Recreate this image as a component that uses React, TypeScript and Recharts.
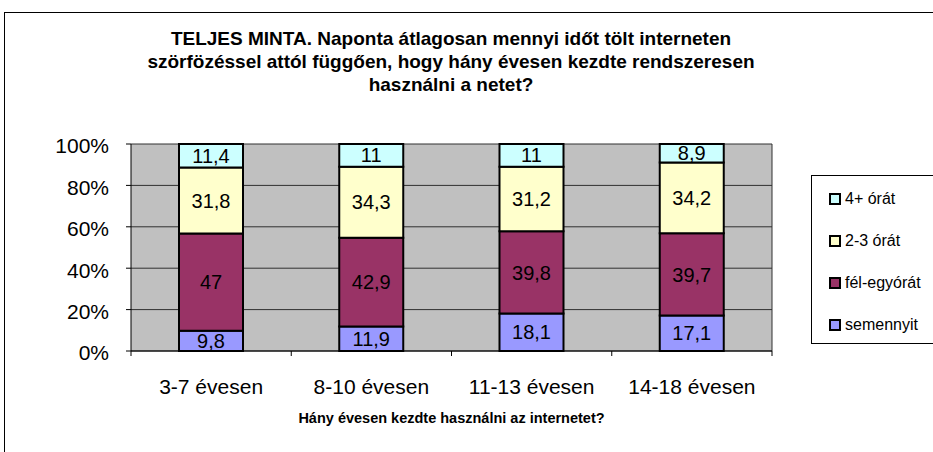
import React from 'react';
import { BarChart, Bar, XAxis, YAxis, CartesianGrid, LabelList } from 'recharts';

const categories = ['3-7 évesen', '8-10 évesen', '11-13 évesen', '14-18 évesen'];
const semennyit = [9.8, 11.9, 18.1, 17.1];
const felEgyorat = [47, 42.9, 39.8, 39.7];
const ketHaromOrat = [31.8, 34.3, 31.2, 34.2];
const negyPlusOrat = [11.4, 11, 11, 8.9];
const yTicks = [0, 0.2, 0.4, 0.6, 0.8, 1];

const titleLines = [
  'TELJES MINTA. Naponta átlagosan mennyi időt tölt interneten',
  'szörfözéssel attól függően, hogy hány évesen kezdte rendszeresen',
  'használni a netet?',
];
const xTitle = 'Hány évesen kezdte használni az internetet?';

const series = [
  { key: 's0', name: 'semennyit', values: semennyit, color: '#9999FF' },
  { key: 's1', name: 'fél-egyórát', values: felEgyorat, color: '#993366' },
  { key: 's2', name: '2-3 órát', values: ketHaromOrat, color: '#FFFFCC' },
  { key: 's3', name: '4+ órát', values: negyPlusOrat, color: '#CCFFFF' },
];

const data = categories.map((c, i) => {
  const row: any = { cat: c };
  series.forEach((s) => (row[s.key] = s.values[i]));
  return row;
});

const FONT = '"Liberation Sans", Arial, Helvetica, sans-serif';

const fmt = (v: any) => String(v).replace('.', ',');

const XTick = (props: any) => {
  const { x, y, payload, index, visibleTicksCount, width } = props;
  const half = payload && payload.offset ? payload.offset : width / (visibleTicksCount || 4) / 2;
  const isLast = index === (visibleTicksCount || 4) - 1;
  return (
    <g>
      <line x1={x - half} y1={y} x2={x - half} y2={y + 5} stroke="#000" strokeWidth={1} />
      {isLast && <line x1={x + half} y1={y} x2={x + half} y2={y + 5} stroke="#000" strokeWidth={1} />}
      <text x={x} y={y + 43} textAnchor="middle" fontSize={21} fill="#000" fontFamily={FONT}>
        {payload.value}
      </text>
    </g>
  );
};

export default function App() {
  return (
    <div style={{ position: 'absolute', left: 0, top: 0, width: 933, height: 452, background: '#fff', fontFamily: FONT, overflow: 'hidden' }}>
      <div style={{ position: 'absolute', left: 4, top: 12, width: 929, height: 440, borderTop: '1px solid #000', borderLeft: '1px solid #000' }} />
      <div style={{ position: 'absolute', left: 0, top: 27, width: 902, textAlign: 'center', fontWeight: 'bold', fontSize: 19, lineHeight: '23px', color: '#000' }}>
        {titleLines.map((l) => (
          <div key={l} style={{ whiteSpace: 'nowrap' }}>{l}</div>
        ))}
      </div>
      <div style={{ position: 'absolute', left: 0, top: 0 }}>
        <BarChart
          width={933}
          height={452}
          data={data}
          stackOffset="expand"
          margin={{ top: 144, right: 161, bottom: 21, left: 0 }}
          barSize={64}
        >
          <CartesianGrid
            stroke="#303030"
            fill="#C0C0C0"
            fillOpacity={1}
            vertical={true}
            verticalCoordinatesGenerator={(p: any) => [p.offset.left + p.offset.width]}
          />
          <XAxis
            dataKey="cat"
            height={80}
            tickSize={0}
            tickMargin={0}
            tickLine={false}
            axisLine={{ stroke: '#000' }}
            tick={<XTick />}
            interval={0}
            label={{ value: xTitle, position: 'insideBottom', offset: 8, fontSize: 14.5, fontWeight: 'bold', fill: '#000', fontFamily: FONT }}
          />
          <YAxis
            width={131}
            domain={[0, 1]}
            ticks={yTicks}
            tickSize={5}
            tickMargin={17}
            tickLine={{ stroke: '#000' }}
            axisLine={{ stroke: '#000' }}
            tickFormatter={(v: number) => `${Math.round(v * 100)}%`}
            tick={{ fontSize: 21, fill: '#000', fontFamily: FONT, dy: 2 }}
          />
          {series.map((s) => (
            <Bar key={s.key} dataKey={s.key} name={s.name} stackId="a" fill={s.color} stroke="#000" strokeWidth={2} isAnimationActive={false}>
              <LabelList dataKey={s.key} position="center" formatter={fmt} fontSize={20} fill="#000" fontFamily={FONT} />
            </Bar>
          ))}
        </BarChart>
      </div>
      <div style={{ position: 'absolute', left: 811, top: 175, width: 125, height: 169, border: '1px solid #000', boxSizing: 'border-box', fontSize: 16, color: '#000' }}>
        {[...series].reverse().map((s, i) => (
          <div key={s.key} style={{ position: 'absolute', left: 17, top: 13 + i * 42, display: 'flex', alignItems: 'center', whiteSpace: 'nowrap', height: 20 }}>
            <span style={{ display: 'inline-block', width: 8, height: 8, background: s.color, border: '2px solid #000', marginRight: 4 }} />
            <span>{s.name}</span>
          </div>
        ))}
      </div>
    </div>
  );
}
